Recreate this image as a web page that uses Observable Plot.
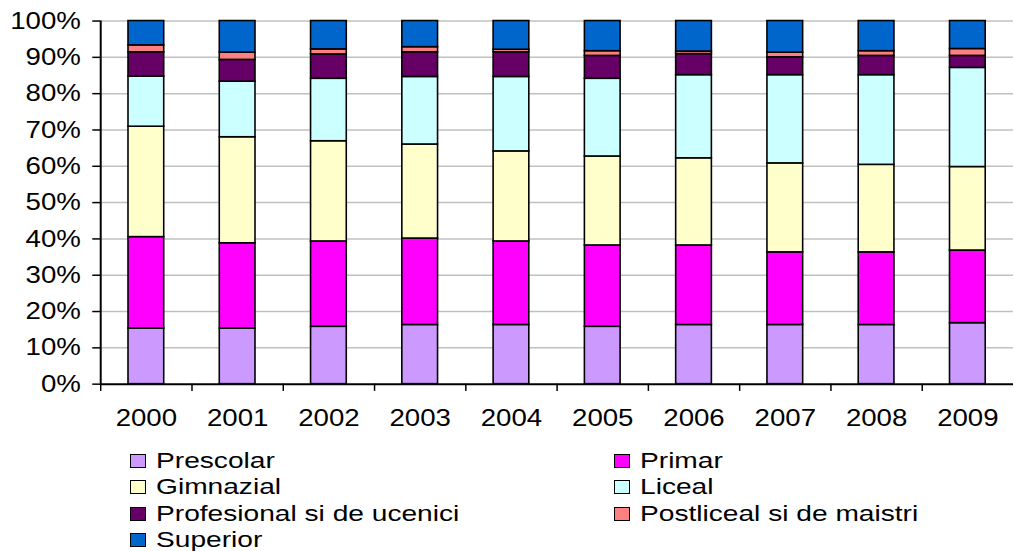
<!DOCTYPE html>
<html>
<head>
<meta charset="utf-8">
<script src="https://cdn.jsdelivr.net/npm/d3@7"></script>
<script src="https://cdn.jsdelivr.net/npm/@observablehq/plot@0.6"></script>
<style>
  html, body { margin: 0; padding: 0; background: #fff; overflow: hidden; }
  #wrap { position: relative; width: 1014px; height: 551px; overflow: hidden; font-family: "Liberation Sans", Arial, sans-serif; }
  #legend { position: absolute; left: 130px; top: 448px; display: grid; grid-template-columns: 484px 400px; grid-auto-rows: 26.3px; font-size: 22.5px; color: #000; line-height: 26px; }
  .item { display: flex; align-items: center; white-space: nowrap; }
  .sw { width: 14px; height: 12px; border: 1.5px solid #000; margin-right: 10px; flex: none; }
  .lt { display: inline-block; transform: scaleX(1.25); transform-origin: left center; }
</style>
</head>
<body>
<div id="wrap"></div>
<script>
const years = ["2000","2001","2002","2003","2004","2005","2006","2007","2008","2009"];
const categories = ["Prescolar","Primar","Gimnazial","Liceal","Profesional si de ucenici","Postliceal si de maistri","Superior"];
const colors = ["#CC99FF","#FF00FF","#FFFFCC","#CCFFFF","#660066","#FF8080","#0066CC"];
const yTicks = [0,0.1,0.2,0.3,0.4,0.5,0.6,0.7,0.8,0.9,1];

const prescolar   = [15.3,15.3,15.8,16.3,16.3,15.8,16.3,16.3,16.3,16.8];
const primar      = [25.2,23.5,23.5,23.8,23.0,22.4,21.9,20.0,20.0,20.0];
const gimnazial   = [30.4,29.2,27.6,25.9,24.8,24.5,24.0,24.5,24.1,23.0];
const liceal      = [13.8,15.3,17.2,18.6,20.5,21.4,22.9,24.3,24.7,27.3];
const profesional = [6.7,6.0,6.7,6.8,6.8,6.3,5.8,4.9,5.3,3.3];
const postliceal  = [1.9,2.0,1.4,1.4,0.7,1.3,0.7,1.3,1.3,1.9];
const superior    = [6.7,8.7,7.8,7.2,7.9,8.3,8.4,8.7,8.3,7.7];

const series = [prescolar, primar, gimnazial, liceal, profesional, postliceal, superior];
const data = years.flatMap((yr, i) => categories.map((c, j) => ({year: yr, cat: c, value: series[j][i]})));

const W = 1022, ML = 101, MR = 1;
const step = (W - ML - MR) / years.length;

const chart = Plot.plot({
  width: W,
  height: 440,
  marginLeft: ML,
  marginRight: MR,
  marginTop: 20.7,
  marginBottom: 53.3,
  style: {fontFamily: "'Liberation Sans', Arial, sans-serif", fontSize: "24px", color: "#000", background: "#fff", overflow: "visible"},
  x: {domain: years, paddingInner: 0.61, paddingOuter: 0.305},
  y: {domain: [0, 1]},
  color: {domain: categories, range: colors},
  marks: [
    Plot.ruleY(yTicks.slice(1), {stroke: "#c0c0c0", strokeWidth: 1.5}),
    Plot.barY(data, Plot.stackY({x: "year", y: "value", fill: "cat", order: categories, offset: "normalize", stroke: "#000", strokeWidth: 1.6})),
    Plot.ruleY([0], {stroke: "#000", strokeWidth: 2}),
    Plot.ruleX(years.slice(0, 1), {dx: -step / 2, y1: 0, y2: 1, stroke: "#000", strokeWidth: 2}),
    Plot.ruleX(years, {dx: -step / 2, y1: 0, y2: -0.02, stroke: "#000", strokeWidth: 1.5}),
    Plot.axisY({ticks: yTicks, tickFormat: d3.format(".0%"), tickSize: 8, tickPadding: 12, strokeWidth: 1.5, label: null}),
    Plot.axisX({tickSize: 0, tickPadding: 25, label: null})
  ]
});

// widen glyphs horizontally around each text's anchor (only x is affected by scaleX)
chart.querySelectorAll("text").forEach(t => {
  const xa = t.getAttribute("x");
  let pre = "";
  if (xa != null && isFinite(+xa)) { pre = ` translate(${+xa},0)`; t.removeAttribute("x"); }
  const tr = t.getAttribute("transform") || "";
  t.setAttribute("transform", `${tr}${pre} scale(1.16,1)`);
});

const wrap = document.getElementById("wrap");
wrap.appendChild(chart);

const legend = document.createElement("div");
legend.id = "legend";
categories.forEach((c, j) => {
  const item = document.createElement("div");
  item.className = "item";
  const sw = document.createElement("span");
  sw.className = "sw";
  sw.style.background = colors[j];
  const t = document.createElement("span");
  t.className = "lt";
  t.textContent = c;
  item.appendChild(sw);
  item.appendChild(t);
  legend.appendChild(item);
});
wrap.appendChild(legend);
</script>
</body>
</html>
